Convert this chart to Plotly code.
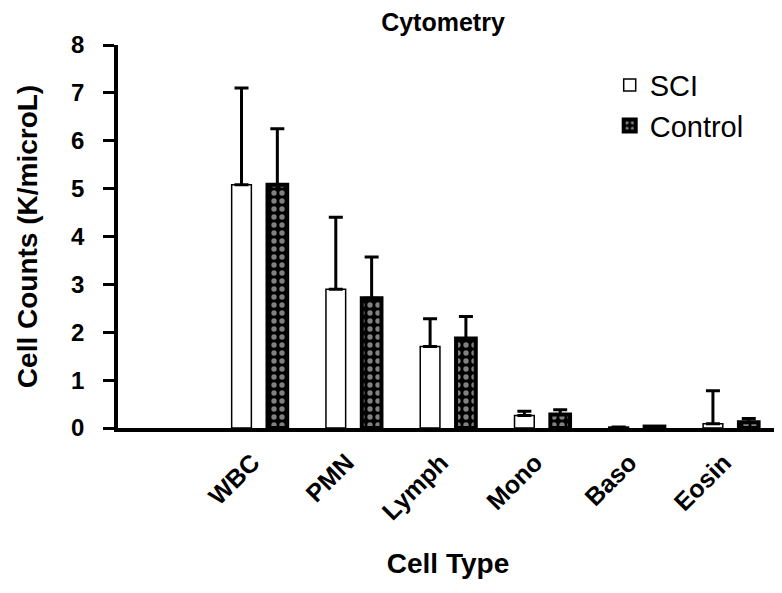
import plotly.graph_objects as go

categories = ["WBC", "PMN", "Lymph", "Mono", "Baso", "Eosin"]
sci_mean = [5.08, 2.90, 1.70, 0.26, 0.02, 0.09]
sci_err = [2.02, 1.50, 0.58, 0.09, 0.0, 0.69]
ctrl_mean = [5.08, 2.71, 1.87, 0.28, 0.03, 0.12]
ctrl_err = [1.17, 0.86, 0.46, 0.10, 0.0, 0.08]
y_ticks = [0, 1, 2, 3, 4, 5, 6, 7, 8]

FONT = "Liberation Sans, Arial, sans-serif"

fig = go.Figure()
fig.add_trace(go.Bar(
    name="SCI", x=categories, y=sci_mean,
    marker=dict(color="white", line=dict(color="black", width=1.5)),
    error_y=dict(type="data", array=sci_err, arrayminus=[0]*len(sci_err), symmetric=False,
                 color="black", thickness=3, width=7),
))
fig.add_trace(go.Bar(
    name="Control", x=categories, y=ctrl_mean,
    marker=dict(color="black", line=dict(color="black", width=4),
                pattern=dict(shape=".", fgcolor="white", bgcolor="black", size=8,
                             solidity=0.35, fillmode="overlay")),
    error_y=dict(type="data", array=ctrl_err, arrayminus=[0]*len(ctrl_err), symmetric=False,
                 color="black", thickness=3, width=7),
))

fig.update_layout(
    width=774, height=577,
    paper_bgcolor="white", plot_bgcolor="white",
    margin=dict(l=110, r=4, t=37, b=157),
    barmode="group", bargap=0.24, bargroupgap=0.45,
    font=dict(family=FONT, color="black"),
    title=dict(text="<b>Cytometry</b>", x=0.562, xanchor="center", y=0.976, yanchor="middle",
               font=dict(size=25, family=FONT, color="black")),
    legend=dict(x=0.745, y=0.962, xanchor="left", yanchor="top",
                font=dict(size=29, family=FONT, color="black"),
                bgcolor="rgba(0,0,0,0)"),
    showlegend=True,
)
fig.update_xaxes(
    type="category", categoryorder="array", categoryarray=categories,
    range=[-1.5, 5.5],
    showline=True, linecolor="black", linewidth=4,
    ticks="", showgrid=False, zeroline=False,
    tickangle=-45, ticklabelstandoff=6, ticklabelshift=-7,
    tickfont=dict(size=25, family=FONT, color="black", weight="bold"),
    title=dict(text="<b>Cell Type</b>", font=dict(size=28, family=FONT, color="black"), standoff=30),
)
fig.update_yaxes(
    range=[0, 8], tickvals=y_ticks,
    showline=True, linecolor="black", linewidth=3.5,
    ticks="outside", ticklen=11, tickwidth=3, tickcolor="black",
    ticklabelstandoff=14,
    showgrid=False, zeroline=False,
    tickfont=dict(size=24, family=FONT, color="black", weight="bold"),
    title=dict(text="<b>Cell Counts (K/microL)</b>", font=dict(size=28, family=FONT, color="black"), standoff=26),
)

fig.write_html("out.html")
